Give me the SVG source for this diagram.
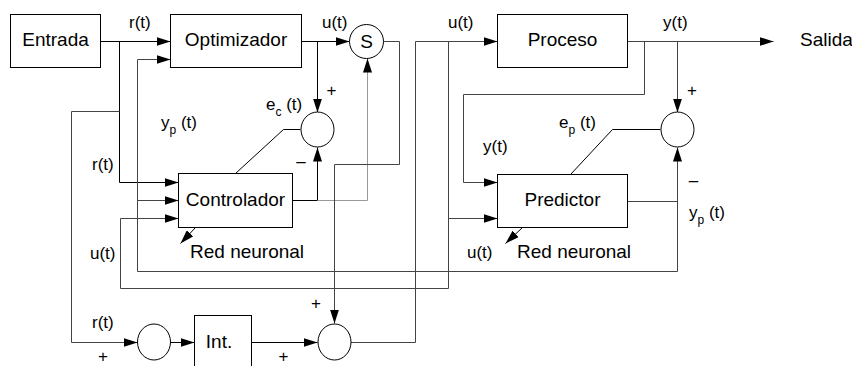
<svg xmlns="http://www.w3.org/2000/svg" width="852" height="366" viewBox="0 0 852 366">
<style>
.box{fill:#fff;stroke:#000;stroke-width:1}
.sum{fill:#fff;stroke:#000;stroke-width:1}
.w{fill:none;stroke:#000;stroke-width:1}
.g{fill:none;stroke:#444;stroke-width:1}
.lg{fill:none;stroke:#999;stroke-width:1}
.m{font-family:"Liberation Sans",Arial,sans-serif;font-size:19px;fill:#000}
.l{font-family:"Liberation Sans",Arial,sans-serif;font-size:17px;fill:#000}
.s{font-size:12px}
</style>
<defs>
<marker id="a" markerUnits="userSpaceOnUse" markerWidth="14" markerHeight="9" refX="14" refY="4.5" orient="auto">
<path d="M0,0 L14,4.5 L0,9 z" fill="#000"/>
</marker>
</defs>
<rect width="852" height="366" fill="#fff"/>
<g id="connectors" transform="translate(0.5,0.5)">
<path class="w" d="M100,41 H170" marker-end="url(#a)"/>
<path class="w" d="M119,41 V182 H178" marker-end="url(#a)"/>
<path class="g" d="M119,111 H71 V342 H137" marker-end="url(#a)"/>
<path class="g" d="M627,201 H677"/>
<path class="g" d="M677,271 V147" marker-end="url(#a)"/>
<path class="g" d="M677,271 H137 V59 H170" marker-end="url(#a)"/>
<path class="g" d="M137,200 H178" marker-end="url(#a)"/>
<path class="w" d="M301,41 H349" marker-end="url(#a)"/>
<path class="w" d="M317,41 V112" marker-end="url(#a)"/>
<path class="w" d="M235,173 L283,129 H300"/>
<path class="w" d="M292,200 H317 V147" marker-end="url(#a)"/>
<path class="lg" d="M317,200 H367 V58" marker-end="url(#a)"/>
<path class="g" d="M383,41 H399 V164 H334 V323" marker-end="url(#a)"/>
<path class="w" d="M170,342 H194" marker-end="url(#a)"/>
<path class="w" d="M251,342 H317" marker-end="url(#a)"/>
<path class="g" d="M350,342 H415 V41 H497" marker-end="url(#a)"/>
<path class="g" d="M448,41 V288 H120 V218 H178" marker-end="url(#a)"/>
<path class="g" d="M448,218 H497" marker-end="url(#a)"/>
<path class="g" d="M627,41 H773" marker-end="url(#a)"/>
<path class="g" d="M644,41 V94 H463 V182 H497" marker-end="url(#a)"/>
<path class="g" d="M677,41 V112" marker-end="url(#a)"/>
<path class="w" d="M570,174 L612,129 H660"/>
<path class="w" d="M195,227 L180,243" marker-end="url(#a)"/>
<path class="w" d="M522,227 L505,243" marker-end="url(#a)"/>
</g>
<g id="entrada"><rect class="box" x="10.5" y="14.5" width="90" height="53"/><text class="m" x="55.5" y="46" text-anchor="middle">Entrada</text></g>
<g id="optimizador"><rect class="box" x="170.5" y="14.5" width="131" height="53"/><text class="m" x="236" y="46" text-anchor="middle">Optimizador</text></g>
<g id="sumS"><circle class="sum" cx="366.5" cy="41.5" r="17"/><text class="m" x="366.5" y="48" text-anchor="middle">S</text></g>
<g id="proceso"><rect class="box" x="497.5" y="14.5" width="130" height="53"/><text class="m" x="562.5" y="46" text-anchor="middle">Proceso</text></g>
<g id="salida"><text class="m" x="800" y="46">Salida</text></g>
<g id="sumEc"><ellipse class="sum" cx="317.5" cy="129.5" rx="16.5" ry="17.5"/></g>
<g id="sumEp"><ellipse class="sum" cx="677.5" cy="129.5" rx="16.5" ry="17.5"/></g>
<g id="controlador"><rect class="box" x="178.5" y="173.5" width="114" height="54"/><text class="m" x="235.5" y="206" text-anchor="middle">Controlador</text></g>
<g id="predictor"><rect class="box" x="497.5" y="174.5" width="130" height="53"/><text class="m" x="562.5" y="206" text-anchor="middle">Predictor</text></g>
<g id="sum1"><ellipse class="sum" cx="154" cy="342" rx="16.5" ry="18"/></g>
<g id="int"><rect class="box" x="194.5" y="315.5" width="57" height="60"/><text class="m" x="219" y="348" text-anchor="middle">Int.</text></g>
<g id="sum2"><ellipse class="sum" cx="334.5" cy="342" rx="16.5" ry="18"/></g>
<g id="labels">
<text class="m" x="190" y="258">Red neuronal</text>
<text class="m" x="517" y="258">Red neuronal</text>
<text class="l" x="129" y="28">r(t)</text>
<text class="l" x="322" y="28">u(t)</text>
<text class="l" x="448" y="28">u(t)</text>
<text class="l" x="663" y="28">y(t)</text>
<text class="l" x="266" y="110">e<tspan class="s" dy="6">c</tspan><tspan dy="-6"> (t)</tspan></text>
<text class="l" x="161" y="128">y<tspan class="s" dy="6">p</tspan><tspan dy="-6"> (t)</tspan></text>
<text class="l" x="92" y="170">r(t)</text>
<text class="l" x="483" y="152">y(t)</text>
<text class="l" x="559" y="128">e<tspan class="s" dy="6">p</tspan><tspan dy="-6"> (t)</tspan></text>
<text class="l" x="689" y="218">y<tspan class="s" dy="6">p</tspan><tspan dy="-6"> (t)</tspan></text>
<text class="l" x="90" y="259">u(t)</text>
<text class="l" x="467" y="258">u(t)</text>
<text class="l" x="92" y="328">r(t)</text>
<text class="l" x="331.5" y="96" text-anchor="middle">+</text>
<text class="l" x="692" y="96" text-anchor="middle">+</text>
<text class="l" x="316" y="309" text-anchor="middle">+</text>
<text class="l" x="103" y="362" text-anchor="middle">+</text>
<text class="l" x="283.5" y="362" text-anchor="middle">+</text>
<text class="l" x="301" y="167" text-anchor="middle">–</text>
<text class="l" x="693.5" y="186" text-anchor="middle">–</text>
</g>
</svg>
